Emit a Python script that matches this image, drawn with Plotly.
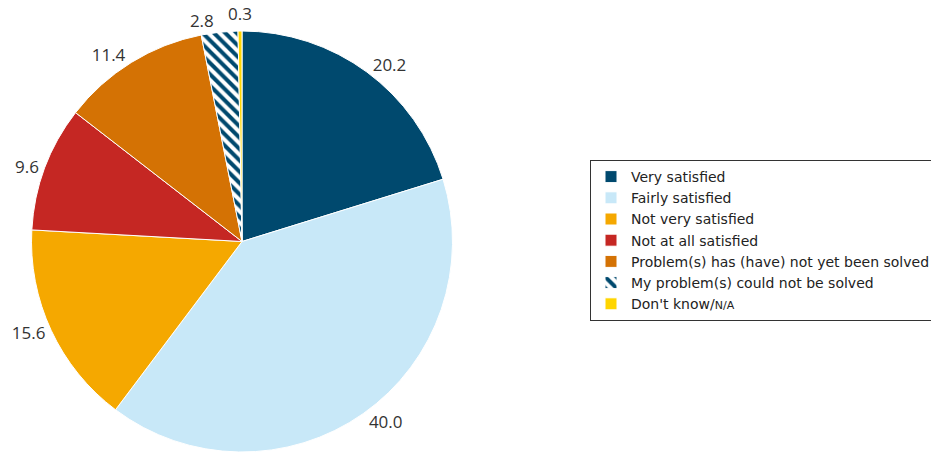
import math
import plotly.graph_objects as go

# Satisfaction with how a problem was handled (%)
labels = [
    "Very satisfied",
    "Fairly satisfied",
    "Not very satisfied",
    "Not at all satisfied",
    "Problem(s) has (have) not yet been solved",
    "My problem(s) could not be solved",
    "Don't know/<span style='font-size:11px'>N/A</span>",
]
values = [20.2, 40.0, 15.6, 9.6, 11.4, 2.8, 0.3]
colors = ["#00496e", "#c8e8f8", "#f5a800", "#c52723", "#d47204", "#ffffff", "#ffd500"]
shapes = ["", "", "", "", "", "\\", ""]
pattern_fg = ["#00496e"] * 7
pattern_bg = colors

W, H = 931, 452
top = 31
radius = (H - top) / 2
cx = 242
label_font = dict(family="Open Sans", size=17, color="#333333")

# the smallest slice's label sits straight above its slice instead of
# being stacked by the automatic label placement
text_pos = ["outside"] * (len(values) - 1) + ["none"]

fig = go.Figure(
    go.Pie(
        labels=labels,
        values=values,
        sort=False,
        direction="clockwise",
        rotation=0,
        marker=dict(
            colors=colors,
            line=dict(color="#ffffff", width=1),
            pattern=dict(shape=shapes, fgcolor=pattern_fg, bgcolor=pattern_bg,
                         size=8, solidity=0.5, fillmode="replace"),
        ),
        texttemplate="%{value:.1f}",
        textposition=text_pos,
        outsidetextfont=label_font,
        hoverinfo="label+value",
        domain=dict(x=[(cx - radius) / W, (cx + radius) / W], y=[0, 1]),
    )
)

total = sum(values)
mid = (total - values[-1] / 2) / total * 2 * math.pi
ax_px = cx + radius * math.sin(mid)
fig.add_annotation(
    x=ax_px / W, xref="paper", xanchor="center",
    y=1 + 4 / (H - top), yref="paper", yanchor="bottom",
    text=f"{values[-1]:.1f}", showarrow=False, font=label_font,
)

fig.update_layout(
    width=W,
    height=H,
    margin=dict(l=0, r=0, t=top, b=0, autoexpand=False),
    paper_bgcolor="#ffffff",
    plot_bgcolor="#ffffff",
    font=dict(family="DejaVu Sans", size=14, color="#222222"),
    legend=dict(
        x=590 / W,
        xanchor="left",
        y=(H - 160) / (H - top),
        yanchor="top",
        bordercolor="#333333",
        borderwidth=1,
        bgcolor="#ffffff",
        font=dict(family="DejaVu Sans", size=14, color="#222222"),
        traceorder="normal",
    ),
    showlegend=True,
)

fig.write_html("out.html")
